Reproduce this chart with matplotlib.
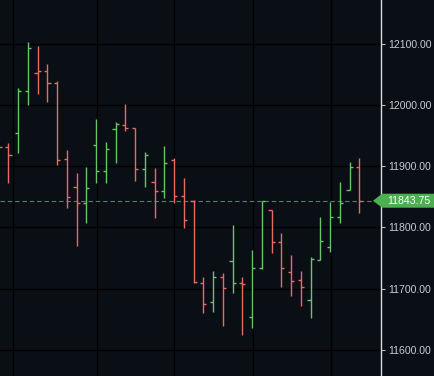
import matplotlib
matplotlib.use("Agg")
import matplotlib.pyplot as plt
from matplotlib.patches import Polygon
import numpy as np

# ---- data (OHLC) ----
opens = [11925.0, 11931.6, 11954.0, 12023.6, 12052.6, 12055.8, 12035.7, 11911.5, 11866.2,
         11839.5, 11934.3, 11892.3, 11960.5, 11967.5, 11962.1, 11895.1, 11873.8, 11860.1,
         11910.3, 11851.9, 11843.75, 11710.0, 11677.6, 11719.8, 11745.5, 11709.7, 11654.1,
         11733.2, 11828.5, 11776.7, 11726.7, 11714.1, 11681.4, 11746.8, 11768.5, 11816.6,
         11861.2, 11899.3]
highs = [11945.0, 11938.9, 12027.6, 12103.8, 12096.2, 12068.1, 12040.0, 11926.7, 11888.6,
         11898.4, 11976.9, 11940.2, 11972.0, 12001.4, 11962.6, 11922.9, 11898.0, 11933.2,
         11913.1, 11880.1, 11844.9, 11719.5, 11728.3, 11725.0, 11804.0, 11719.0, 11763.1,
         11843.75, 11828.5, 11790.4, 11755.0, 11729.3, 11752.2, 11817.1, 11842.1, 11873.8,
         11907.5, 11913.1]
lows = [11915.0, 11873.5, 11921.3, 12000.2, 12017.7, 12005.6, 11902.1, 11831.3, 11768.9,
        11806.8, 11872.2, 11873.2, 11904.9, 11957.2, 11876.0, 11866.6, 11815.9, 11847.7,
        11839.5, 11798.6, 11709.7, 11659.6, 11662.2, 11639.3, 11692.3, 11624.6, 11635.1,
        11732.1, 11757.7, 11703.4, 11687.9, 11671.1, 11651.4, 11746.8, 11760.3, 11806.8,
        11861.2, 11823.6]
closes = [11931.6, 11917.7, 12023.1, 12093.0, 12055.8, 12035.7, 11911.1, 11849.3, 11839.5,
          11864.0, 11892.3, 11927.8, 11968.7, 11962.1, 11895.1, 11918.0, 11860.1, 11904.9,
          11851.9, 11812.2, 11710.3, 11674.3, 11719.8, 11700.5, 11708.7, 11707.0, 11733.2,
          11843.75, 11776.7, 11733.2, 11712.9, 11703.1, 11748.9, 11777.8, 11816.6, 11840.0,
          11899.3, 11843.75]
price_ticks = [11600, 11700, 11800, 11900, 12000, 12100]
last_price = closes[-1]

# ---- style ----
BG = '#0a0f16'
UP = '#6cc26a'
DOWN = '#e96a62'
GRID = '#000000'
W, H = 434, 376
AX_RIGHT = 381

fig = plt.figure(figsize=(W / 100, H / 100), dpi=100, facecolor=BG)
ax = fig.add_axes([0, 0, AX_RIGHT / W, 1], facecolor=BG)

o = np.array(opens); h = np.array(highs); l = np.array(lows); c = np.array(closes)
x = np.arange(len(o)) - 1  # first bar sits partly off the left edge
prev = np.concatenate([[o[0] + 10], c[:-1]])
colors = [UP if ci >= pi else DOWN for ci, pi in zip(c, prev)]

tick = 0.33
lw = 1.0
ax.vlines(x, l, h, colors=colors, linewidth=lw, zorder=3)
ax.hlines(o, x - tick, x, colors=colors, linewidth=lw, zorder=3)
ax.hlines(c, x, x + tick, colors=colors, linewidth=lw, zorder=3)

ax.set_xlim(-0.85, 38.23)
ax.set_ylim(11557.1, 12172.0)

ax.set_xticks([0.51, 9.07, 17.03, 25.07, 33.07])
ax.set_yticks(price_ticks)
ax.grid(True, color=GRID, linewidth=1.0, zorder=0)
ax.tick_params(axis='x', length=0, labelbottom=False)
ax.yaxis.tick_right()
ax.tick_params(axis='y', length=3, width=0.8, color='#b8bcc2', pad=2,
               labelcolor='#c9ccd1', labelsize=7.6)
ax.set_yticklabels([f"{v:.2f}" for v in price_ticks], family='Liberation Sans')
for s in ['left', 'top', 'bottom']:
    ax.spines[s].set_visible(False)
ax.spines['right'].set_color('#d8dadd')
ax.spines['right'].set_linewidth(1.0)

ax.axhline(last_price, color='#5a8064', linewidth=0.8, linestyle=(0, (4, 2.6)), zorder=2)

# price tag on the axis
fig.canvas.draw()
yd = ax.transData.transform((0, last_price))[1]
hh = 7.0
tip = 373
pts = [(tip, yd), (AX_RIGHT + 1, yd + hh), (W + 2, yd + hh), (W + 2, yd - hh), (AX_RIGHT + 1, yd - hh)]
tag = Polygon(pts, closed=True, facecolor='#4caf50', edgecolor='none', transform=None, zorder=5)
fig.add_artist(tag)
fig.text(408.5 / W, yd / H, f"{last_price:.2f}", color='white', ha='center', va='center',
         fontsize=7.6, family='Liberation Sans', zorder=6)

fig.savefig('out.png', dpi=100, facecolor=BG)
